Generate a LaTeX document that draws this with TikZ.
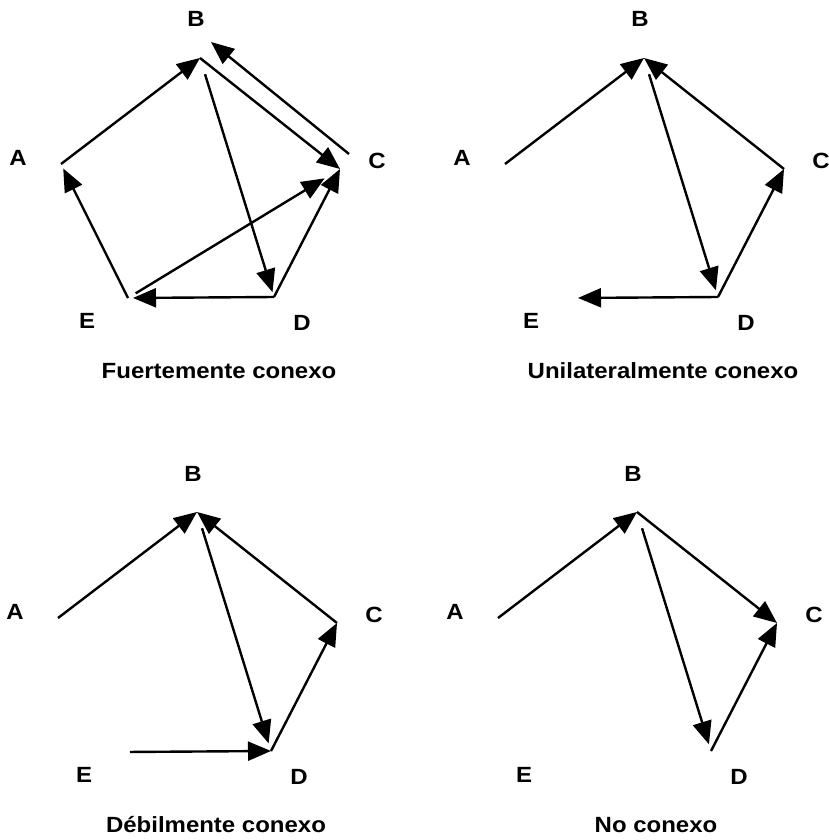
\documentclass[tikz,border=0pt]{standalone}
\usepackage{fontspec}
\newfontfamily\etiqfont[FakeStretch=1.09, UprightFont={* Bold}, BoldFont={* Bold}]{Liberation Sans}
\usepackage{tikz}
\usetikzlibrary{arrows.meta}

% vertices A..E of one graph, their letters and the title under it
\newcommand{\pentagono}[1]{%
  \coordinate (A) at (61,164);
  \coordinate (B) at (200,58);
  \coordinate (C) at (340,169);
  \coordinate (D) at (274,297);
  \coordinate (E) at (128,298);
  \node[lab] (lA) at (18,165) {A};
  \node[lab] (lB) at (196,27) {B};
  \node[lab] (lC) at (377,168) {C};
  \node[lab] (lD) at (302,330) {D};
  \node[lab] (lE) at (87,328) {E};
  \node[lab] (titulo) at (219,378.5) {#1};
}

\begin{document}
\begin{tikzpicture}[x=1pt, y=-1pt, arr/.style={-{Triangle[length=23pt, width=19pt]}, line width=2.4pt}, lab/.style={font=\etiqfont\fontsize{22}{26}\selectfont, anchor=base, inner sep=0pt}]
\useasboundingbox (0,0) rectangle (829,840);
% fuertemente conexo
\begin{scope}
  \pentagono{Fuertemente conexo}
  \coordinate (Cb) at (349,154);
  \coordinate (Bc) at (211,42);
  \draw[arr] (A) -- (B);
  \draw[arr] (B) -- (C);
  \draw[arr] (Cb) -- (Bc);
  \draw[arr, shorten <=17pt, shorten >=5pt] (B) -- (D);
  \draw[arr] (D) -- (C);
  \draw[arr, shorten <=9pt, shorten >=18pt] (E) -- (C);
  \draw[arr, shorten >=5pt] (D) -- (E);
  \draw[arr, shorten >=5pt] (E) -- (A);
\end{scope}
% unilateralmente conexo
\begin{scope}[shift={(444,0)}]
  \pentagono{Unilateralmente conexo}
  \draw[arr] (A) -- (B);
  \draw[arr] (C) -- (B);
  \draw[arr, shorten <=17pt, shorten >=7pt] (B) -- (D);
  \draw[arr] (D) -- (C);
  \draw[arr, shorten >=6pt] (D) -- (E);
\end{scope}
% debilmente conexo
\begin{scope}[shift={(-3,454)}]
  \pentagono{Débilmente conexo}
  \draw[arr] (A) -- (B);
  \draw[arr] (C) -- (B);
  \draw[arr, shorten <=17pt, shorten >=8pt] (B) -- (D);
  \draw[arr] (D) -- (C);
  \draw[arr, shorten <=5pt] (E) -- (D);
\end{scope}
% no conexo
\begin{scope}[shift={(437,454)}]
  \pentagono{No conexo}
  \draw[arr] (A) -- (B);
  \draw[arr] (B) -- (C);
  \draw[arr, shorten <=17pt, shorten >=7pt] (B) -- (D);
  \draw[arr] (D) -- (C);
\end{scope}
\end{tikzpicture}
\end{document}
